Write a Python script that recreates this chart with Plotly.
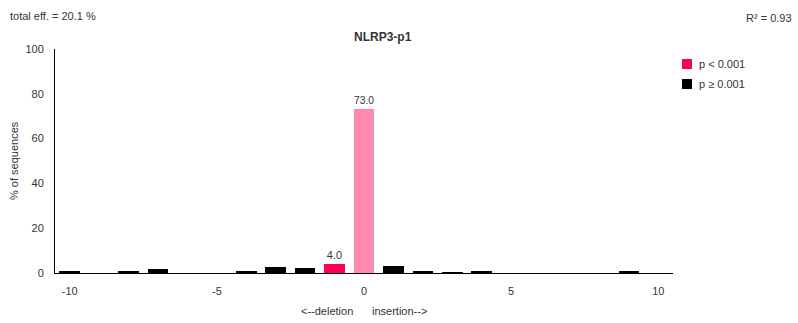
import plotly.graph_objects as go

# Indel size distribution (percent of sequences per indel length)
sig_sizes = [-1]
sig_values = [4.0]
nonsig_sizes = [-10, -8, -7, -4, -3, -2, 1, 2, 3, 4, 9]
nonsig_values = [0.6, 0.6, 1.6, 0.6, 2.6, 2.3, 3.0, 0.6, 0.3, 0.6, 0.6]
wt_sizes = [0]
wt_values = [73.0]
x_ticks = [-10, -5, 0, 5, 10]
x_tick_labels = ["-10", "-5", "0", "5", "10"]
y_ticks = [0, 20, 40, 60, 80, 100]

SIG_COLOR = "#ff0055"
NONSIG_COLOR = "#000000"
WT_COLOR = "#ff8aad"

W, H = 798, 323
L, R, T, B = 55, 125, 49, 50
FONT = "Liberation Sans, Arial, sans-serif"
TXT = "#333333"

fig = go.Figure()
fig.add_trace(go.Bar(x=sig_sizes, y=sig_values, width=0.7, name="p < 0.001",
                     marker=dict(color=SIG_COLOR, line=dict(width=0)),
                     text=[f"{v:.1f}" for v in sig_values], textposition="outside",
                     textfont=dict(size=11, color=TXT, family=FONT), cliponaxis=False))
fig.add_trace(go.Bar(x=nonsig_sizes, y=nonsig_values, width=0.7, name="p \u2265 0.001",
                     marker=dict(color=NONSIG_COLOR, line=dict(width=0))))
fig.add_trace(go.Bar(x=wt_sizes, y=wt_values, width=0.7, name="wild type",
                     marker=dict(color=WT_COLOR, line=dict(width=0)),
                     text=[f"{v:.1f}" for v in wt_values], textposition="outside",
                     textfont=dict(size=11, color=TXT, family=FONT), cliponaxis=False))

fig.update_layout(
    width=W, height=H,
    margin=dict(l=L, r=R, t=T, b=B, pad=0, autoexpand=False),
    paper_bgcolor="white", plot_bgcolor="white",
    font=dict(family=FONT, size=11, color=TXT),
    barmode="overlay",
    bargap=0,
    showlegend=False,
    xaxis=dict(range=[-10.5, 10.5], tickvals=x_ticks, ticktext=x_tick_labels,
               showgrid=False, zeroline=False,
               showline=True, linecolor="#000000", linewidth=1, ticks="",
               tickfont=dict(size=11, color=TXT), ticklabelstandoff=8),
    yaxis=dict(range=[0, 100], tickvals=y_ticks, showgrid=False, zeroline=False,
               showline=True, linecolor="#000000", linewidth=1, ticks="",
               tickfont=dict(size=11, color=TXT), ticklabelstandoff=8),
)

PW, PH = W - L - R, H - T - B


def fx(px):
    # page pixel x -> paper fraction
    return (px - L) / PW


def fy(py):
    # page pixel y (from top) -> paper fraction
    return (H - B - py) / PH


annotations = [
    dict(text="total eff. = 20.1 %", x=fx(8), y=fy(16), xanchor="left", yanchor="middle"),
    dict(text="R\u00b2 = 0.93", x=fx(794), y=fy(18), xanchor="right", yanchor="middle"),
    dict(text="<b>NLRP3-p1</b>", x=fx(383), y=fy(37), xanchor="center", yanchor="middle",
         font=dict(size=12, color=TXT)),
    dict(text="% of sequences", x=fx(14), y=fy(161), xanchor="center", yanchor="middle",
         textangle=-90),
    dict(text="<--deletion", x=fx(355), y=fy(311), xanchor="right", yanchor="middle"),
    dict(text="insertion-->", x=fx(370), y=fy(311), xanchor="left", yanchor="middle"),
]

# Legend: colour swatches with their labels
shapes = []
legend_items = [("p < 0.001", SIG_COLOR), ("p \u2265 0.001", NONSIG_COLOR)]
for i, (label, color) in enumerate(legend_items):
    top = 59 + 20 * i
    shapes.append(dict(type="rect", xref="paper", yref="paper",
                       x0=fx(682), x1=fx(692), y0=fy(top + 10), y1=fy(top),
                       fillcolor=color, line=dict(width=0)))
    annotations.append(dict(text=label, x=fx(697), y=fy(top + 5), xanchor="left",
                            yanchor="middle"))

for a in annotations:
    a.update(xref="paper", yref="paper", showarrow=False)
    a.setdefault("font", dict(size=11, color=TXT))

fig.update_layout(annotations=annotations, shapes=shapes)

fig.write_html("out.html")
